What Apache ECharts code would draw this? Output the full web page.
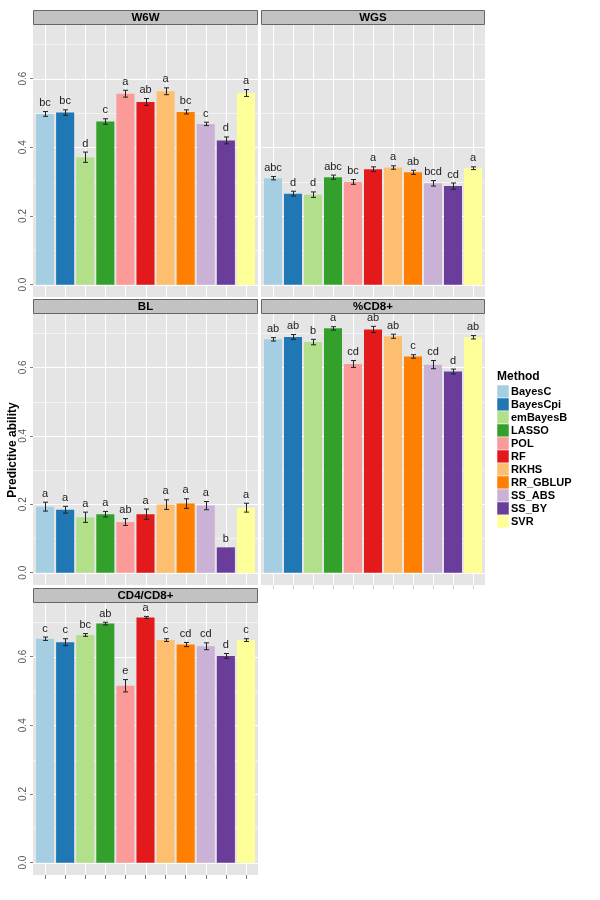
<!DOCTYPE html>
<html lang="en">
<head>
<meta charset="UTF-8" />
<title>Predictive ability</title>
<script src="https://cdn.jsdelivr.net/npm/echarts@6/dist/echarts.min.js"></script>
<style>
  body { margin: 0; padding: 0; background: #fff; }
  #main { width: 600px; height: 900px; }
</style>
</head>
<body>
<div id="main"></div>
<script>
const methods = ["BayesC", "BayesCpi", "emBayesB", "LASSO", "POL", "RF", "RKHS", "RR_GBLUP", "SS_ABS", "SS_BY", "SVR"];
const colors = ["#A6CEE3", "#1F78B4", "#B2DF8A", "#33A02C", "#FB9A99", "#E31A1C", "#FDBF6F", "#FF7F00", "#CAB2D6", "#6A3D9A", "#FFFF99"];
const traits = ["W6W", "WGS", "BL", "%CD8+", "CD4/CD8+"];

const w6wMean = [0.497, 0.501, 0.371, 0.475, 0.556, 0.532, 0.563, 0.503, 0.468, 0.420, 0.558];
const w6wSe = [0.007, 0.008, 0.015, 0.008, 0.010, 0.010, 0.010, 0.006, 0.005, 0.010, 0.010];
const w6wLetters = ["bc", "bc", "d", "c", "a", "ab", "a", "bc", "c", "d", "a"];

const wgsMean = [0.310, 0.265, 0.262, 0.313, 0.299, 0.336, 0.341, 0.327, 0.295, 0.287, 0.339];
const wgsSe = [0.005, 0.007, 0.008, 0.006, 0.007, 0.007, 0.005, 0.006, 0.008, 0.009, 0.004];
const wgsLetters = ["abc", "d", "d", "abc", "bc", "a", "a", "ab", "bcd", "cd", "a"];

const blMean = [0.193, 0.184, 0.162, 0.171, 0.148, 0.171, 0.199, 0.202, 0.196, 0.074, 0.190];
const blSe = [0.013, 0.010, 0.015, 0.008, 0.010, 0.015, 0.014, 0.014, 0.012, 0, 0.013];
const blLetters = ["a", "a", "a", "a", "ab", "a", "a", "a", "a", "b", "a"];

const cd8Mean = [0.682, 0.689, 0.674, 0.714, 0.610, 0.711, 0.691, 0.632, 0.608, 0.588, 0.688];
const cd8Se = [0.005, 0.007, 0.008, 0.005, 0.010, 0.009, 0.006, 0.005, 0.012, 0.007, 0.005];
const cd8Letters = ["ab", "ab", "b", "a", "cd", "ab", "ab", "c", "cd", "d", "ab"];

const ratioMean = [0.652, 0.642, 0.663, 0.696, 0.515, 0.714, 0.648, 0.635, 0.630, 0.602, 0.648];
const ratioSe = [0.005, 0.010, 0.004, 0.004, 0.018, 0.003, 0.004, 0.006, 0.010, 0.007, 0.004];
const ratioLetters = ["c", "c", "bc", "ab", "e", "a", "c", "cd", "cd", "d", "c"];

const yTicks = [0, 0.2, 0.4, 0.6];
const yGridValues = [0, 0.1, 0.2, 0.3, 0.4, 0.5, 0.6, 0.7];
const xTicks = [1, 2, 3, 4, 5, 6, 7, 8, 9, 10, 11];

const means = [w6wMean, wgsMean, blMean, cd8Mean, ratioMean];
const ses = [w6wSe, wgsSe, blSe, cd8Se, ratioSe];
const letters = [w6wLetters, wgsLetters, blLetters, cd8Letters, ratioLetters];

const yMin = -0.036, yMax = 0.756;
const xMin = 0.4, xMax = 11.6;
const font = "Liberation Sans";

// panel boxes: left, top, width, height
const boxes = [
  [33, 25, 225, 272],
  [261, 25, 224, 272],
  [33, 314, 225, 271],
  [261, 314, 224, 271],
  [33, 603, 225, 272]
];
const leftCol = [true, false, true, false, true];
const bottomTicks = [false, false, false, "#cfcfcf", "#7f7f7f"];

const chart = echarts.init(document.getElementById("main"));

const grid = [], xAxis = [], yAxis = [], series = [], graphic = [];

boxes.forEach((b, g) => {
  grid.push({ left: b[0], top: b[1], width: b[2], height: b[3], show: true,
    backgroundColor: "#e5e5e5", borderWidth: 0, containLabel: false });
  xAxis.push({
    type: "value", gridIndex: g, min: xMin, max: xMax, position: "bottom",
    axisLine: { show: false, onZero: false },
    axisLabel: { show: false },
    splitLine: { show: false },
    axisTick: { show: !!bottomTicks[g], customValues: xTicks, length: 4,
      lineStyle: { color: bottomTicks[g] || "#7f7f7f" } }
  });
  yAxis.push({
    type: "value", gridIndex: g, min: yMin, max: yMax,
    axisLine: { show: false, onZero: false },
    splitLine: { show: false },
    axisTick: { show: leftCol[g], customValues: yTicks, length: 3, lineStyle: { color: "#7f7f7f" } },
    axisLabel: { show: leftCol[g], customValues: yTicks, rotate: 90, margin: 5,
      fontSize: 10, color: "#555", fontFamily: font, formatter: (v) => v.toFixed(1) }
  });

  // horizontal grid lines
  series.push({
    type: "custom", xAxisIndex: g, yAxisIndex: g, z: 1, silent: true,
    data: yGridValues.map((v) => [xMin, v]),
    renderItem: (params, api) => {
      const v = api.value(1);
      const p0 = api.coord([xMin, v]);
      const p1 = api.coord([xMax, v]);
      const y = Math.round(p0[1]) + 0.5;
      const major = Math.abs(v / 0.2 - Math.round(v / 0.2)) < 1e-6;
      return { type: "line", shape: { x1: p0[0], y1: y, x2: p1[0], y2: y },
        style: { stroke: major ? "#ffffff" : "#f3f3f3", lineWidth: 1 } };
    }
  });
  // vertical grid lines at each method
  series.push({
    type: "custom", xAxisIndex: g, yAxisIndex: g, z: 1, silent: true,
    data: methods.map((m, i) => [i + 1, 0]),
    renderItem: (params, api) => {
      const x = api.value(0);
      const p0 = api.coord([x, yMin]);
      const p1 = api.coord([x, yMax]);
      const xx = Math.round(p0[0]) + 0.5;
      return { type: "line", shape: { x1: xx, y1: p0[1], x2: xx, y2: p1[1] },
        style: { stroke: "#ffffff", lineWidth: 1 } };
    }
  });
  // bars
  series.push({
    type: "bar", name: traits[g], xAxisIndex: g, yAxisIndex: g, z: 2,
    barWidth: 0.9 * b[2] / (xMax - xMin),
    data: means[g].map((v, i) => ({ value: [i + 1, v], itemStyle: { color: colors[i] } }))
  });
  // error bars and letters
  series.push({
    type: "custom", xAxisIndex: g, yAxisIndex: g, z: 3, silent: true,
    data: means[g].map((v, i) => [i + 1, v, ses[g][i]]),
    renderItem: (params, api) => {
      const x = api.value(0), m = api.value(1), s = api.value(2);
      const top = api.coord([x, m + s]);
      const bot = api.coord([x, m - s]);
      const cx = Math.round(top[0]) + 0.5;
      const children = [];
      if (s > 0) {
        const st = { stroke: "#222", lineWidth: 1 };
        children.push({ type: "line", shape: { x1: cx, y1: top[1], x2: cx, y2: bot[1] }, style: st });
        children.push({ type: "line", shape: { x1: cx - 2.5, y1: top[1], x2: cx + 2.5, y2: top[1] }, style: st });
        children.push({ type: "line", shape: { x1: cx - 2.5, y1: bot[1], x2: cx + 2.5, y2: bot[1] }, style: st });
      }
      children.push({ type: "text", style: { text: letters[g][params.dataIndex], x: top[0], y: top[1] - 3,
        align: "center", verticalAlign: "bottom", fontSize: 11, fontFamily: font, fill: "#222" } });
      return { type: "group", children: children };
    }
  });

  // facet strip
  graphic.push({ type: "rect", shape: { x: b[0] + 0.5, y: b[1] - 15 + 0.5, width: b[2] - 1, height: 14 },
    style: { fill: "#c2c2c2", stroke: "#666", lineWidth: 1 } });
  graphic.push({ type: "text", x: b[0] + b[2] / 2, y: b[1] - 7.5,
    style: { text: traits[g], align: "center", verticalAlign: "middle", fontSize: 11.5,
      fontWeight: "bold", fontFamily: font, fill: "#000" } });
});

// y axis title
graphic.push({ type: "text", x: 13, y: 450, rotation: Math.PI / 2,
  style: { text: "Predictive ability", align: "center", verticalAlign: "middle", fontSize: 12,
    fontWeight: "bold", fontFamily: font, fill: "#000" } });

// legend
graphic.push({ type: "text", x: 497, y: 377,
  style: { text: "Method", align: "left", verticalAlign: "middle", fontSize: 12,
    fontWeight: "bold", fontFamily: font, fill: "#000" } });
methods.forEach((m, i) => {
  const y = 385 + 13 * i;
  graphic.push({ type: "rect", shape: { x: 497, y: y, width: 12, height: 13 },
    style: { fill: colors[i], stroke: "#ffffff", lineWidth: 0.5 } });
  graphic.push({ type: "text", x: 511, y: y + 6.5,
    style: { text: m, align: "left", verticalAlign: "middle", fontSize: 11,
      fontWeight: "bold", fontFamily: font, fill: "#000" } });
});

chart.setOption({
  animation: false,
  grid: grid,
  xAxis: xAxis,
  yAxis: yAxis,
  series: series,
  graphic: graphic
});
</script>
</body>
</html>
